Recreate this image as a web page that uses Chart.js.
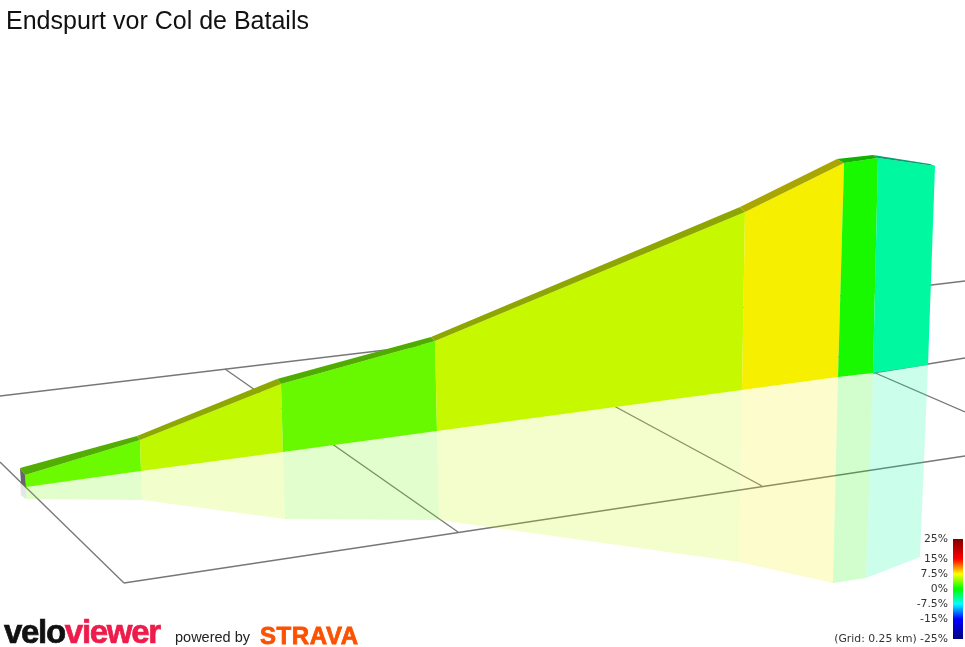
<!DOCTYPE html>
<html>
<head>
<meta charset="utf-8">
<title>Endspurt vor Col de Batails</title>
<script src="https://cdn.jsdelivr.net/npm/chart.js@4"></script>
<style>
  body { margin: 0; background: #fff; }
  #wrap { position: relative; width: 965px; height: 647px; overflow: hidden; }
  #chart { position: absolute; left: 0; top: 0; }
  .txt { position: absolute; white-space: nowrap; font-family: "Liberation Sans", sans-serif; }
  #title { left: 6px; top: 6px; font-size: 25px; color: #111; }
  #velo { left: 4px; top: 613px; font-size: 33px; font-weight: bold; letter-spacing: -1.3px; color: #111; -webkit-text-stroke: 0.7px currentColor; }
  #velo span { color: #ee1c4a; }
  #powered { left: 175px; top: 629px; font-size: 14.5px; color: #222; }
  #strava { left: 260px; top: 622px; font-size: 24px; font-weight: bold; letter-spacing: 0.6px; color: #fc5200; -webkit-text-stroke: 0.8px currentColor; }
</style>
</head>
<body>
<div id="wrap">
  <canvas id="chart" width="965" height="647"></canvas>
  <div class="txt" id="title">Endspurt vor Col de Batails</div>
  <div class="txt" id="velo">velo<span>viewer</span></div>
  <div class="txt" id="powered">powered by</div>
  <div class="txt" id="strava">STRAVA</div>
</div>
<script>
// profile, one entry per gradient change
const frontTopX = [25, 140, 281, 435, 745, 844, 878, 935];
const frontTopY = [475, 440, 384, 341, 212, 163, 158, 166];
const backTopX = [20, 137, 277, 431, 740, 837, 873, 930];
const backTopY = [468, 436, 379, 337, 207, 159, 155, 164];
const baseX = [26, 141, 283, 437, 742, 838, 873, 928];
const baseY = [487, 471, 452, 431, 390, 377, 373, 365];
const shadowX = [26, 142, 285, 439, 739, 833, 866, 920];
const shadowY = [499, 500, 519, 520, 562, 583, 578, 557];

const segmentColors = ['#6cfa00', '#c0f800', '#68f900', '#c6f900', '#f6f000', '#18f900', '#00f8a0'];
const ridgeColors = ['#52ae00', '#8fa800', '#50ad00', '#8fa600', '#aaa600', '#12b000', '#00a070'];
const shadowColors = ['rgba(108,250,0,.2)', 'rgba(192,248,0,.2)', 'rgba(104,249,0,.2)', 'rgba(198,249,0,.2)',
  'rgba(246,240,0,.2)', 'rgba(24,249,0,.2)', 'rgba(0,248,160,.2)'];

// ground grid, each line as [x0, y0, x1, y1]
const gridLines = [
  [0, 396, 965, 281],
  [124, 583, 965, 456],
  [873, 373, 965, 358],
  [0, 462, 124, 583],
  [225, 369, 458, 532],
  [614, 406, 762, 486],
  [790, 336, 965, 412]
];

// gradient scale
const legendTicks = [25, 15, 7.5, 0, -7.5, -15, -25];
const legendColors = ['#7f0000', '#ff0000', '#ffff00', '#00ff00', '#00ffff', '#0000ff', '#00007f'];
const legendBarX = [953, 963];

function poly(pts, color, axis) {
  return {
    data: pts.map(p => ({ x: p[0], y: p[1] })),
    yAxisID: axis || 'y',
    showLine: true,
    fill: 'shape',
    backgroundColor: color,
    borderWidth: 0,
    pointRadius: 0,
    pointHoverRadius: 0
  };
}

let datasets = [];

for (const g of gridLines) {
  datasets.push({
    data: [{ x: g[0], y: g[1] }, { x: g[2], y: g[3] }],
    yAxisID: 'y',
    showLine: true,
    fill: false,
    borderColor: '#777',
    borderWidth: 1.3,
    pointRadius: 0
  });
}

// mirrored ground shadow first, wall on top
datasets.push(poly([[20, 483], [26, 487], [26, 499], [21, 495]], 'rgba(100,100,100,.16)'));
segmentColors.forEach((c, i) => {
  datasets.push(poly([
    [baseX[i], baseY[i]], [baseX[i + 1], baseY[i + 1]],
    [shadowX[i + 1], shadowY[i + 1]], [shadowX[i], shadowY[i]]
  ], shadowColors[i]));
});
segmentColors.forEach((c, i) => {
  datasets.push(poly([
    [frontTopX[i], frontTopY[i]], [frontTopX[i + 1], frontTopY[i + 1]],
    [baseX[i + 1], baseY[i + 1]], [baseX[i], baseY[i]]
  ], c));
  datasets.push(poly([
    [backTopX[i], backTopY[i]], [backTopX[i + 1], backTopY[i + 1]],
    [frontTopX[i + 1], frontTopY[i + 1]], [frontTopX[i], frontTopY[i]]
  ], ridgeColors[i]));
});
datasets.push(poly([
  [backTopX[0], backTopY[0]], [frontTopX[0], frontTopY[0]], [baseX[0], baseY[0]], [21, 483]
], '#666'));

// colour bar runs on its own % axis
datasets.push(poly([
  [legendBarX[0], legendTicks[0]], [legendBarX[1], legendTicks[0]],
  [legendBarX[1], legendTicks[6]], [legendBarX[0], legendTicks[6]]
], function (ctx) {
  const s = ctx.chart.scales.yLegend;
  if (!s) return 'transparent';
  const top = s.getPixelForValue(legendTicks[0]);
  const bottom = s.getPixelForValue(legendTicks[6]);
  if (!isFinite(top) || !isFinite(bottom)) return 'transparent';
  const grad = ctx.chart.ctx.createLinearGradient(0, top, 0, bottom);
  legendTicks.forEach((t, i) => grad.addColorStop((legendTicks[0] - t) / 50, legendColors[i]));
  return grad;
}, 'yLegend'));

// chart.js paints lower order on top, keep array order as paint order
datasets.forEach((d, i) => { d.order = -i; });

new Chart(document.getElementById('chart'), {
  type: 'scatter',
  data: { datasets },
  options: {
    responsive: false,
    animation: false,
    events: [],
    layout: { padding: 0 },
    plugins: { legend: { display: false }, tooltip: { enabled: false } },
    scales: {
      x: { type: 'linear', min: 0, max: 965, display: false },
      y: { type: 'linear', min: 0, max: 647, reverse: true, display: false },
      yLegend: {
        type: 'linear',
        position: 'right',
        min: -29,
        max: 294.5,
        border: { display: false },
        grid: { display: false },
        afterBuildTicks: axis => { axis.ticks = legendTicks.map(v => ({ value: v })); },
        afterFit: axis => {
          axis.width = 0;
          axis.paddingTop = axis.paddingBottom = axis.paddingLeft = axis.paddingRight = 0;
        },
        ticks: {
          mirror: true,
          padding: -17,
          autoSkip: false,
          maxRotation: 0,
          color: '#333',
          font: { family: 'DejaVu Sans', size: 10.8 },
          callback: v => (v === -25 ? '(Grid: 0.25 km) -25%' : v + '%')
        }
      }
    }
  }
});
</script>
</body>
</html>
